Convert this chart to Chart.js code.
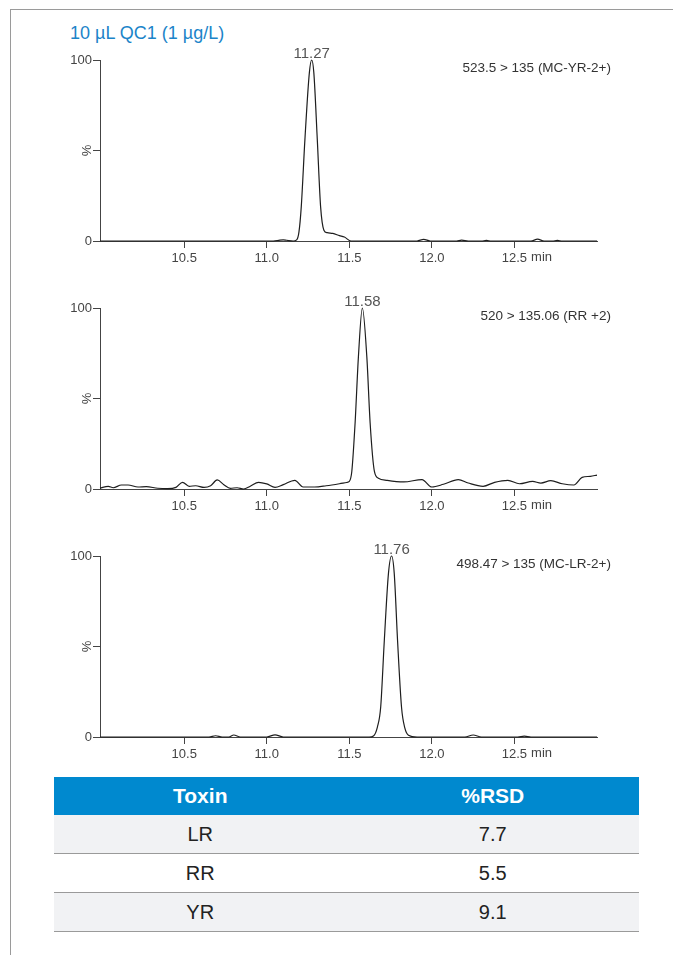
<!DOCTYPE html>
<html>
<head>
<meta charset="utf-8">
<script src="https://cdn.jsdelivr.net/npm/chart.js@4.4.1/dist/chart.umd.min.js"></script>
<style>
  html, body { margin: 0; padding: 0; background: #fff; }
  body { width: 673px; height: 955px; position: relative; overflow: hidden; font-family: "Liberation Sans", Arial, sans-serif; }
  #frame { position: absolute; left: 10px; top: 9px; width: 700px; height: 1000px; border-left: 1.5px solid #9a9a9a; border-top: 1.5px solid #9a9a9a; }
  #title { position: absolute; left: 70px; top: 22px; font-size: 18px; line-height: 22px; color: #1b84c9; }
  .chart-wrap { position: absolute; left: 0; width: 673px; height: 236px; }
  #rsd-table { position: absolute; left: 54px; top: 777px; width: 585px; border-collapse: collapse; }
  #rsd-table th { background: #0089cf; color: #fff; font-weight: bold; font-size: 21px; height: 38px; padding: 0; }
  #rsd-table td { font-size: 20px; color: #222; height: 38px; padding: 0; text-align: center; border-bottom: 1.5px solid #9a9a9a; width: 50%; }
  #rsd-table tr.shade td { background: #f1f2f4; }
</style>
</head>
<body>
<div id="frame"></div>
<div id="title">10 µL QC1 (1 µg/L)</div>

<div class="chart-wrap" style="top:40px"><canvas id="chart-yr"></canvas></div>
<div class="chart-wrap" style="top:288px"><canvas id="chart-rr"></canvas></div>
<div class="chart-wrap" style="top:536px"><canvas id="chart-lr"></canvas></div>

<table id="rsd-table">
  <thead><tr><th id="head-toxin"></th><th id="head-rsd"></th></tr></thead>
  <tbody id="rsd-body"></tbody>
</table>

<script>
const X_TICKS = [10.5, 11.0, 11.5, 12.0, 12.5];
const Y_TICKS = [0, 50, 100];

// 523.5 > 135 (MC-YR-2+)
const YR_TIME = [9.99, 11.04, 11.08, 11.10, 11.12, 11.16, 11.181, 11.195, 11.209, 11.231, 11.258, 11.272, 11.285, 11.306, 11.326, 11.346, 11.366, 11.40, 11.44, 11.47, 11.51, 11.91, 11.95, 11.99, 12.15, 12.18, 12.22, 12.30, 12.33, 12.36, 12.60, 12.64, 12.68, 12.73, 12.76, 12.79, 13.0];
const YR_PCT = [0, 0, 0.5, 0.6, 0.4, 0, 0.6, 5, 19, 56, 93, 100, 93, 56, 19, 6, 4.6, 4.2, 3.0, 2.2, 0, 0, 0.9, 0, 0, 0.5, 0, 0, 0.3, 0, 0, 1.0, 0, 0, 0.3, 0, 0];

// 520 > 135.06 (RR +2)
const RR_TIME = [9.99, 10.04, 10.07, 10.12, 10.16, 10.22, 10.27, 10.34, 10.40, 10.45, 10.49, 10.53, 10.57, 10.62, 10.66, 10.70, 10.74, 10.78, 10.82, 10.86, 10.90, 10.95, 11.00, 11.05, 11.10, 11.17, 11.22, 11.29, 11.36, 11.44, 11.484, 11.50, 11.515, 11.535, 11.555, 11.579, 11.606, 11.626, 11.652, 11.676, 11.73, 11.83, 11.94, 12.00, 12.07, 12.16, 12.22, 12.31, 12.38, 12.46, 12.53, 12.61, 12.66, 12.72, 12.79, 12.86, 12.91, 12.96, 13.0];
const RR_PCT = [0.5, 1.5, 0.7, 2.2, 2.2, 1.1, 1.3, 0.4, 0.2, 0.9, 3.7, 1.5, 1.8, 0.9, 1.8, 5.0, 2.4, 0.4, 0.7, 0, 1.5, 3.7, 2.8, 0.9, 2.4, 4.8, 1.1, 1.1, 1.8, 2.9, 3.6, 4.2, 9.7, 36.5, 73, 100, 73, 36.5, 9.7, 6, 4.8, 3.9, 5.2, 1.1, 2.6, 5.2, 3.3, 1.5, 3.7, 4.8, 2.9, 4.2, 3.3, 4.6, 2.9, 2.2, 6.4, 7.0, 7.7];

// 498.47 > 135 (MC-LR-2+)
const LR_TIME = [9.99, 10.65, 10.69, 10.73, 10.77, 10.80, 10.84, 11.00, 11.05, 11.10, 11.62, 11.646, 11.67, 11.690, 11.712, 11.737, 11.756, 11.772, 11.792, 11.816, 11.836, 11.858, 11.91, 12.20, 12.25, 12.30, 12.52, 12.56, 12.60, 13.0];
const LR_PCT = [0, 0, 0.7, 0, 0, 1.1, 0, 0, 1.2, 0, 0, 0.6, 5.5, 16.6, 53.5, 90.4, 100, 90.4, 53.5, 16.6, 5, 1, 0, 0, 1.1, 0, 0, 0.5, 0, 0];

const TRACE_NAMES = ["523.5 > 135 (MC-YR-2+)", "520 > 135.06 (RR +2)", "498.47 > 135 (MC-LR-2+)"];
const PEAK_RT = ["11.27", "11.58", "11.76"];

const TABLE_HEAD = ["Toxin", "%RSD"];
const TOXINS = ["LR", "RR", "YR"];
const RSD = ["7.7", "5.5", "9.1"];

const FONT = '"Liberation Sans", Arial, sans-serif';
const AXIS_COLOR = '#444';

function make_labels_plugin(trace_name, peak_rt) {
  return {
    id: 'chromLabels',
    afterDraw(chart) {
      const ctx = chart.ctx;
      const area = chart.chartArea;
      const x = chart.scales.x;
      const y = chart.scales.y;
      ctx.save();

      // rotated "%" at mid-height tick
      ctx.fillStyle = AXIS_COLOR;
      ctx.font = '13px ' + FONT;
      ctx.translate(area.left - 13, y.getPixelForValue(50));
      ctx.rotate(-Math.PI / 2);
      ctx.textAlign = 'center';
      ctx.textBaseline = 'middle';
      ctx.fillText('%', 0, 0);
      ctx.setTransform(1, 0, 0, 1, 0, 0);
      ctx.scale(chart.currentDevicePixelRatio, chart.currentDevicePixelRatio);

      // "min" after the last tick
      const last = X_TICKS[X_TICKS.length - 1];
      const half = ctx.measureText(String(last.toFixed(1))).width / 2;
      ctx.textAlign = 'left';
      ctx.textBaseline = 'top';
      ctx.fillText('min', x.getPixelForValue(last) + half + 4, area.bottom + 10);

      // retention time above the apex
      const data = chart.data.datasets[0].data;
      let top = data[0];
      data.forEach(p => { if (p.y > top.y) top = p; });
      ctx.fillStyle = '#555';
      ctx.font = '15px ' + FONT;
      ctx.textAlign = 'center';
      ctx.textBaseline = 'bottom';
      ctx.fillText(peak_rt, x.getPixelForValue(top.x), y.getPixelForValue(top.y) + 1);

      // transition name
      ctx.fillStyle = '#333';
      ctx.font = '13.5px ' + FONT;
      ctx.textAlign = 'right';
      ctx.textBaseline = 'middle';
      ctx.fillText(trace_name, area.right + 14, area.top + 8);
      ctx.restore();
    }
  };
}

function make_chart(canvas_id, times, pct, trace_name, peak_rt) {
  const points = times.map((t, i) => ({ x: t, y: pct[i] }));
  return new Chart(document.getElementById(canvas_id), {
    type: 'line',
    data: {
      datasets: [{
        data: points,
        borderColor: '#1e1e1e',
        borderWidth: 1.2,
        pointRadius: 0,
        cubicInterpolationMode: 'monotone',
        clip: false,
      }],
    },
    options: {
      maintainAspectRatio: false,
      responsive: true,
      animation: false,
      events: [],
      layout: { padding: { top: 20, left: 60, right: 76, bottom: 5 } },
      plugins: { legend: { display: false }, tooltip: { enabled: false } },
      scales: {
        x: {
          type: 'linear',
          min: 9.99,
          max: 13.0,
          afterBuildTicks: scale => { scale.ticks = X_TICKS.map(v => ({ value: v })); },
          afterFit: scale => { scale.height = 30; },
          border: { display: true, color: AXIS_COLOR, width: 1 },
          grid: { drawOnChartArea: false, tickLength: 7, color: AXIS_COLOR, lineWidth: 1 },
          ticks: {
            color: AXIS_COLOR,
            font: { family: FONT, size: 13 },
            padding: 3,
            maxRotation: 0,
            autoSkip: false,
            callback: v => v.toFixed(1),
          },
        },
        y: {
          min: 0,
          max: 100,
          afterBuildTicks: scale => { scale.ticks = Y_TICKS.map(v => ({ value: v })); },
          afterFit: scale => { scale.width = 40; },
          border: { display: true, color: AXIS_COLOR, width: 1 },
          grid: { drawOnChartArea: false, tickLength: 7, color: AXIS_COLOR, lineWidth: 1 },
          ticks: {
            color: AXIS_COLOR,
            font: { family: FONT, size: 13 },
            padding: 1,
            callback: v => (v === 50 ? '' : String(v)),
          },
        },
      },
    },
    plugins: [make_labels_plugin(trace_name, peak_rt)],
  });
}

make_chart('chart-yr', YR_TIME, YR_PCT, TRACE_NAMES[0], PEAK_RT[0]);
make_chart('chart-rr', RR_TIME, RR_PCT, TRACE_NAMES[1], PEAK_RT[1]);
make_chart('chart-lr', LR_TIME, LR_PCT, TRACE_NAMES[2], PEAK_RT[2]);

// %RSD table
document.getElementById('head-toxin').textContent = TABLE_HEAD[0];
document.getElementById('head-rsd').textContent = TABLE_HEAD[1];
const TBODY = document.getElementById('rsd-body');
TOXINS.forEach((name, i) => {
  const row = document.createElement('tr');
  if (i % 2 === 0) row.className = 'shade';
  row.innerHTML = `<td>${name}</td><td>${RSD[i]}</td>`;
  TBODY.appendChild(row);
});
</script>
</body>
</html>
